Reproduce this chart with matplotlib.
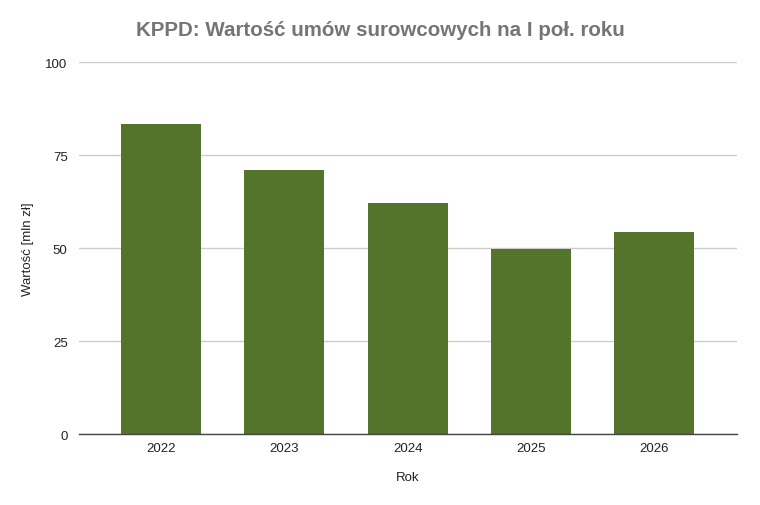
import matplotlib
matplotlib.use("Agg")
import matplotlib.pyplot as plt

years = ["2022", "2023", "2024", "2025", "2026"]
values = [83.5, 71.0, 62.3, 49.9, 54.3]
yticks = [0, 25, 50, 75, 100]

plt.rcParams['font.family'] = ['Liberation Sans', 'DejaVu Sans']

fig = plt.figure(figsize=(7.6, 5.06), dpi=100)
ax = fig.add_axes([0.1036, 0.1397, 0.8657, 0.7352])

x = list(range(len(years)))
ax.bar(x, values, width=0.65, color="#54742c", zorder=3)
ax.set_xlim(-0.668, len(years) - 1 + 0.668)
ax.set_ylim(0, 100)
ax.set_yticks(yticks)
ax.set_xticks(x)
ax.set_xticklabels(years)
ax.grid(axis="y", color="#cccccc", linewidth=1, zorder=0)
for s in ["top", "right", "left"]:
    ax.spines[s].set_visible(False)
ax.spines["bottom"].set_color("#444444")
ax.spines["bottom"].set_linewidth(1)
ax.spines["bottom"].set_zorder(4)
ax.tick_params(axis="both", length=0, labelsize=9.5, colors="#222222")
ax.tick_params(axis="x", pad=5.5)
ax.tick_params(axis="y", pad=8)

ax.set_xlabel("Rok", fontsize=9.5, color="#222222", labelpad=12.5)
ax.set_ylabel("Wartość [mln zł]", fontsize=9.5, color="#222222", labelpad=8.5)
fig.text(0.5, 0.94, "KPPD: Wartość umów surowcowych na I poł. roku",
         ha="center", va="center", fontsize=14.8, fontweight="bold", color="#757575")

fig.savefig("out.png", dpi=100)
